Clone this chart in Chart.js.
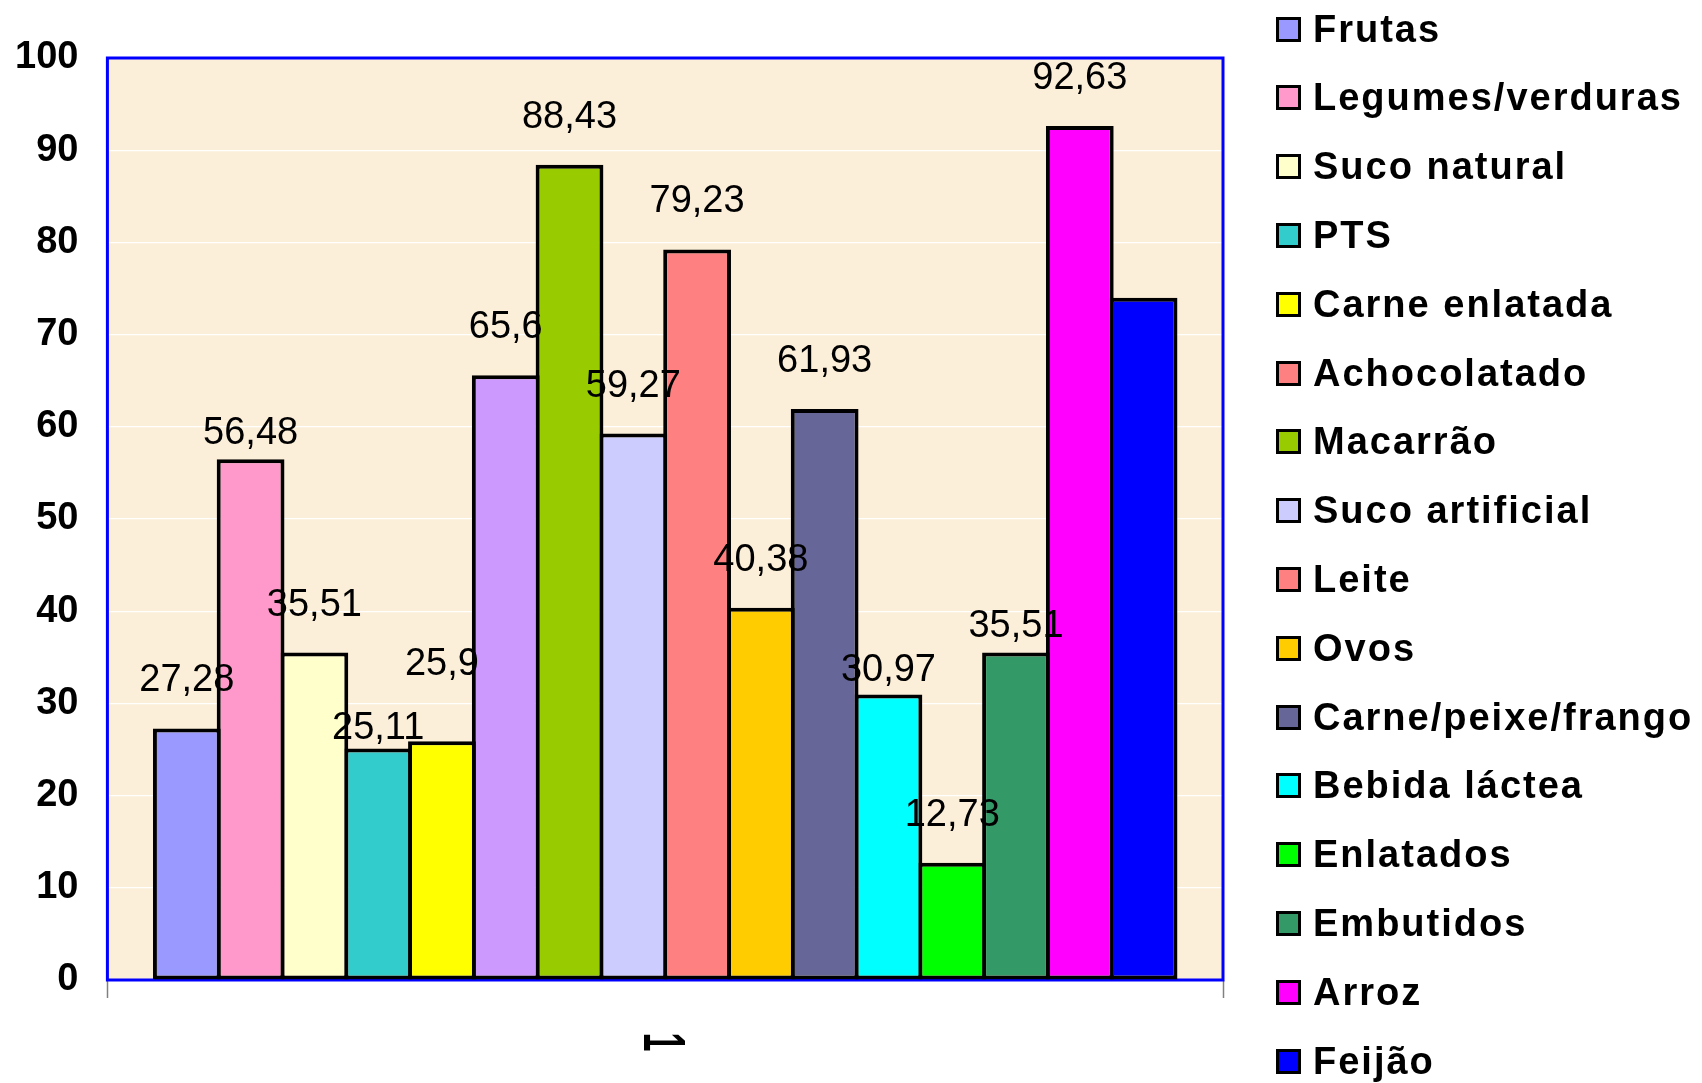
<!DOCTYPE html>
<html>
<head>
<meta charset="utf-8">
<script src="https://cdn.jsdelivr.net/npm/chart.js@4.4.1/dist/chart.umd.min.js"></script>
<style>
  html, body { margin: 0; padding: 0; background: #ffffff; }
  #wrap { position: relative; width: 1702px; height: 1083px; overflow: hidden; }
  #c { position: absolute; left: 0; top: 0; }
  .li { position: absolute; left: 1276px; height: 44px; display: flex; align-items: center;
        font: bold 38px "Liberation Sans", Arial, sans-serif; letter-spacing: 2px; color: #000;
        white-space: nowrap; }
  .sw { width: 19px; height: 19px; border: 3px solid #000; margin-right: 12px; flex: none; }
</style>
</head>
<body>
<div id="wrap">
  <canvas id="c" width="1702" height="1083"></canvas>
  <div id="legend"></div>
</div>
<script>
// ---- data ----
const categories = ['1'];
const seriesNames = ['Frutas', 'Legumes/verduras', 'Suco natural', 'PTS', 'Carne enlatada',
  'Achocolatado', 'Macarrão', 'Suco artificial', 'Leite', 'Ovos', 'Carne/peixe/frango',
  'Bebida láctea', 'Enlatados', 'Embutidos', 'Arroz', 'Feijão'];
const seriesValues = [27.28, 56.48, 35.51, 25.11, 25.9, 65.6, 88.43, 59.27, 79.23, 40.38,
  61.93, 30.97, 12.73, 35.51, 92.63, 74];
const yTicks = [0, 10, 20, 30, 40, 50, 60, 70, 80, 90, 100];

// ---- styles ----
const barColors = ['#9999FF', '#FF99CC', '#FFFFCC', '#33CCCC', '#FFFF00', '#CC99FF', '#99CC00',
  '#CCCCFF', '#FF8080', '#FFCC00', '#666699', '#00FFFF', '#00FF00', '#339966', '#FF00FF', '#0000FF'];
const legendColors = ['#9999FF', '#FF99CC', '#FFFFCC', '#33CCCC', '#FFFF00', '#FF8080', '#99CC00',
  '#CCCCFF', '#FF8080', '#FFCC00', '#666699', '#00FFFF', '#00FF00', '#339966', '#FF00FF', '#0000FF'];
// vertical gap (px) between value label baseline and bar top; null = no label
const labelGap = [37, 15, 37, 9, 66, 37, 37, 37, 37, 37, 37, 13, 37, 16, 37, null];

const FONT = '"Liberation Sans", Arial, sans-serif';

const bgPlugin = {
  id: 'bg',
  beforeDraw(chart) {
    const {ctx, chartArea: a} = chart;
    ctx.save();
    ctx.fillStyle = '#FCEFD9';
    ctx.fillRect(a.left, a.top, a.right - a.left, a.bottom - a.top);
    ctx.restore();
  }
};

const framePlugin = {
  id: 'frame',
  beforeDatasetsDraw(chart) {
    const {ctx, chartArea: a} = chart;
    ctx.save();
    ctx.strokeStyle = '#0000FF';
    ctx.lineWidth = 3;
    ctx.strokeRect(a.left, a.top, a.right - a.left, a.bottom - a.top);
    ctx.restore();
  }
};

const valueLabels = {
  id: 'valueLabels',
  afterDatasetsDraw(chart) {
    const {ctx} = chart;
    ctx.save();
    ctx.font = '38px ' + FONT;
    ctx.fillStyle = '#000';
    ctx.textAlign = 'center';
    ctx.textBaseline = 'alphabetic';
    chart.data.datasets.forEach((ds, i) => {
      const gap = labelGap[i];
      if (gap === null) return;
      const el = chart.getDatasetMeta(i).data[0];
      const txt = String(ds.data[0]).replace('.', ',');
      ctx.fillText(txt, el.x, el.y - gap);
    });
    ctx.restore();
  }
};

const catLabel = {
  id: 'catLabel',
  afterDraw(chart) {
    const {ctx, chartArea: a} = chart;
    const xs = chart.scales.x;
    const x = xs.getPixelForTick(0);
    const size = 34, sy = 1.72;
    const capH = 0.716 * size * sy;
    ctx.save();
    ctx.translate(x - capH / 2, a.bottom + 62);
    ctx.rotate(Math.PI / 2);
    ctx.scale(1, sy);
    ctx.font = 'bold ' + size + 'px ' + FONT;
    ctx.fillStyle = '#000';
    ctx.textAlign = 'center';
    ctx.textBaseline = 'alphabetic';
    ctx.fillText(categories[0], 0, 0);
    ctx.restore();
  }
};

const datasets = seriesNames.map((name, i) => ({
  label: name,
  data: [seriesValues[i]],
  backgroundColor: barColors[i],
  borderColor: '#000000',
  borderWidth: 4,
  borderSkipped: false,
  categoryPercentage: 0.9148,
  barPercentage: 1.0627
}));

new Chart(document.getElementById('c'), {
  type: 'bar',
  data: { labels: categories, datasets },
  options: {
    responsive: false,
    animation: false,
    events: [],
    layout: { padding: { left: 15, right: 479, top: 58, bottom: 85 } },
    plugins: { legend: { display: false }, tooltip: { enabled: false } },
    scales: {
      x: {
        offset: true,
        border: { display: false },
        grid: { display: true, offset: true, drawOnChartArea: false, drawTicks: true,
                tickLength: 18, tickColor: '#808080', tickWidth: 1.5 },
        ticks: { display: false }
      },
      y: {
        min: 0, max: 100,
        afterBuildTicks: s => { s.ticks = yTicks.map(v => ({ value: v })); },
        afterFit: s => { s.width = 92.4; },
        border: { display: false },
        grid: { color: 'rgba(255,255,255,0.95)', lineWidth: 1.2, drawTicks: false },
        ticks: { color: '#000', padding: 29, font: { family: FONT, size: 38, weight: 'bold' } }
      }
    }
  },
  plugins: [bgPlugin, framePlugin, valueLabels, catLabel]
});

// HTML legend
const lg = document.getElementById('legend');
seriesNames.forEach((name, i) => {
  const d = document.createElement('div');
  d.className = 'li';
  d.style.top = (29 + i * 68.8 - 22) + 'px';
  const sw = document.createElement('span');
  sw.className = 'sw';
  sw.style.background = legendColors[i];
  const t = document.createElement('span');
  t.textContent = name;
  d.appendChild(sw);
  d.appendChild(t);
  lg.appendChild(d);
});
</script>
</body>
</html>
